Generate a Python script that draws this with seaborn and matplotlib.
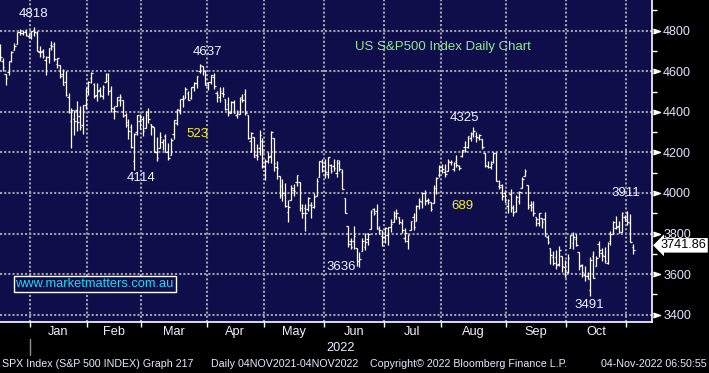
import numpy as np
import pandas as pd
import seaborn as sns
import matplotlib.pyplot as plt
from matplotlib import transforms as mtrans

# SPX daily bars, 16 Dec 2021 - 3 Nov 2022 (one line per month)
opens = [
    4719.13, 4652.50, 4587.90, 4594.96, 4650.36, 4703.96, 4733.99, 4795.49, 4788.64, 4794.23, 4775.21,
    4778.14, 4804.51, 4787.99, 4693.39, 4697.66, 4655.34, 4669.14, 4728.59, 4733.56, 4637.99, 4632.24, 4588.03, 4547.35, 4471.38, 4356.32, 4366.64, 4408.43, 4380.58, 4336.19, 4431.79,
    4519.57, 4566.39, 4535.41, 4482.79, 4505.75, 4480.02, 4547.00, 4553.24, 4506.27, 4412.61, 4429.28, 4455.75, 4456.06, 4384.57, 4332.74, 4324.93, 4155.77, 4298.38, 4354.17,
    4363.14, 4322.56, 4401.31, 4342.12, 4327.01, 4202.66, 4223.10, 4252.55, 4279.50, 4202.75, 4188.82, 4288.14, 4345.11, 4407.34, 4462.40, 4469.10, 4493.10, 4469.98, 4522.66, 4541.09, 4602.86, 4624.20, 4599.02,
    4540.32, 4547.97, 4572.45, 4494.17, 4474.65, 4494.15, 4462.64, 4437.59, 4394.30, 4449.12, 4385.63, 4390.63, 4472.26, 4489.17, 4385.83, 4255.34, 4278.14, 4186.52, 4222.58, 4253.75,
    4130.61, 4159.78, 4181.18, 4270.43, 4128.17, 4081.27, 4035.18, 3990.08, 3903.95, 3963.90, 4013.02, 4052.00, 4051.98, 3899.00, 3927.76, 3919.42, 3942.94, 3929.59, 3984.60, 4077.43, 4151.09,
    4149.78, 4095.41, 4137.57, 4134.72, 4096.47, 4147.12, 4101.65, 3974.39, 3838.15, 3763.52, 3764.05, 3728.18, 3665.90, 3715.31, 3733.89, 3774.71, 3821.75, 3920.76, 3913.00, 3825.09, 3785.99,
    3781.00, 3792.61, 3831.98, 3858.85, 3888.26, 3880.94, 3851.95, 3779.67, 3763.99, 3818.00, 3883.79, 3860.73, 3935.32, 3955.47, 3998.43, 3965.72, 3953.22, 3951.43, 4026.13, 4087.33,
    4112.38, 4104.21, 4107.96, 4154.85, 4115.87, 4155.93, 4133.11, 4181.02, 4227.40, 4225.02, 4269.37, 4290.46, 4280.40, 4273.13, 4266.31, 4195.08, 4133.09, 4126.55, 4153.26, 4198.74, 4034.58, 4041.25, 4000.67,
    3936.73, 3994.66, 3930.89, 3909.43, 3959.94, 4022.94, 4083.67, 4037.12, 3940.73, 3932.41, 3880.95, 3849.91, 3875.23, 3871.40, 3782.36, 3727.14, 3682.72, 3686.44, 3651.94, 3687.01, 3633.48,
    3609.78, 3726.46, 3753.25, 3771.97, 3706.74, 3644.76, 3595.86, 3590.83, 3520.37, 3690.41, 3638.65, 3746.26, 3703.11, 3689.05, 3657.10, 3762.01, 3799.44, 3825.97, 3834.69, 3808.26, 3881.85,
    3901.79, 3852.90, 3733.25,
]
highs = [
    4731.99, 4666.70, 4587.90, 4651.14, 4697.67, 4740.74, 4791.49, 4807.02, 4804.06, 4808.93, 4786.83,
    4796.64, 4818.62, 4797.70, 4725.01, 4707.95, 4673.02, 4714.13, 4748.83, 4744.13, 4665.13, 4632.24, 4611.55, 4602.11, 4494.52, 4417.35, 4411.01, 4453.23, 4428.74, 4432.72, 4516.89,
    4550.49, 4595.31, 4542.88, 4539.66, 4521.86, 4531.32, 4590.03, 4588.92, 4526.33, 4426.22, 4472.77, 4489.55, 4456.06, 4394.60, 4362.12, 4341.51, 4294.73, 4385.34, 4388.84,
    4378.45, 4401.48, 4416.78, 4342.12, 4327.01, 4276.94, 4299.40, 4268.28, 4291.01, 4247.57, 4271.05, 4357.86, 4412.67, 4465.40, 4481.75, 4522.00, 4501.07, 4520.58, 4546.03, 4575.65, 4637.30, 4627.77, 4603.07,
    4548.70, 4583.50, 4593.45, 4503.94, 4521.16, 4520.41, 4464.35, 4471.00, 4453.92, 4460.46, 4410.31, 4471.03, 4488.29, 4512.94, 4385.83, 4299.02, 4278.14, 4240.71, 4308.45, 4269.68,
    4169.81, 4200.10, 4307.66, 4270.43, 4157.69, 4081.27, 4068.82, 4049.09, 3964.80, 4038.88, 4046.46, 4090.72, 4051.98, 3945.96, 3943.42, 3981.88, 3955.68, 3999.33, 4075.14, 4158.49, 4168.34,
    4166.54, 4177.51, 4142.67, 4168.78, 4164.86, 4160.14, 4119.10, 3974.39, 3838.15, 3778.18, 3837.56, 3728.18, 3707.71, 3779.65, 3801.79, 3802.58, 3913.65, 3927.72, 3945.86, 3836.50, 3818.99,
    3829.82, 3832.19, 3870.91, 3910.63, 3918.50, 3880.94, 3873.41, 3829.44, 3796.41, 3863.62, 3902.44, 3939.81, 3974.13, 3999.29, 4012.44, 3975.30, 3953.22, 4039.56, 4078.95, 4140.15,
    4144.95, 4140.47, 4167.66, 4161.29, 4151.58, 4186.62, 4137.30, 4211.03, 4257.91, 4280.47, 4301.79, 4325.28, 4302.18, 4292.53, 4266.31, 4195.08, 4159.77, 4156.56, 4200.54, 4203.04, 4062.99, 4044.98, 4015.37,
    3970.23, 4018.43, 3942.55, 3987.89, 4010.50, 4076.81, 4119.28, 4037.12, 3961.94, 3959.14, 3880.95, 3900.45, 3876.01, 3907.07, 3790.68, 3727.14, 3715.67, 3717.53, 3736.74, 3687.01, 3671.44,
    3698.35, 3791.92, 3806.91, 3797.93, 3706.74, 3652.17, 3640.66, 3608.34, 3685.41, 3712.00, 3689.73, 3762.79, 3728.58, 3736.00, 3757.89, 3810.74, 3862.85, 3886.15, 3859.95, 3905.42, 3893.73,
    3911.79, 3894.44, 3750.59,
]
lows = [
    4651.89, 4600.22, 4531.10, 4583.16, 4645.53, 4703.96, 4733.99, 4780.04, 4778.08, 4775.33, 4765.75,
    4758.17, 4774.27, 4699.44, 4671.26, 4662.74, 4582.24, 4638.27, 4706.71, 4650.29, 4614.75, 4568.70, 4530.20, 4477.95, 4395.34, 4222.62, 4287.11, 4304.80, 4309.50, 4292.46, 4414.02,
    4483.53, 4544.32, 4470.39, 4451.50, 4471.47, 4465.40, 4547.00, 4484.31, 4401.41, 4364.84, 4429.28, 4429.68, 4373.81, 4327.22, 4267.11, 4221.51, 4114.65, 4286.83, 4315.12,
    4279.54, 4322.56, 4345.56, 4284.98, 4199.85, 4157.87, 4223.10, 4209.80, 4200.49, 4161.72, 4187.90, 4267.92, 4335.65, 4390.57, 4424.30, 4469.10, 4455.81, 4465.17, 4501.07, 4517.69, 4589.66, 4581.32, 4530.41,
    4507.57, 4539.21, 4514.17, 4450.04, 4450.30, 4474.60, 4408.38, 4381.34, 4392.70, 4394.30, 4370.30, 4390.63, 4448.76, 4384.47, 4267.62, 4200.82, 4175.04, 4162.90, 4188.63, 4124.28,
    4062.51, 4147.08, 4148.91, 4106.01, 4067.91, 3975.48, 3958.17, 3928.82, 3858.87, 3963.90, 3983.99, 4033.93, 3911.91, 3876.58, 3810.32, 3909.04, 3875.13, 3925.03, 3984.60, 4077.43, 4104.88,
    4073.85, 4074.37, 4098.67, 4109.18, 4080.19, 4107.20, 4017.17, 3900.16, 3734.30, 3724.20, 3722.30, 3639.77, 3636.87, 3715.31, 3717.69, 3743.52, 3821.75, 3889.66, 3820.14, 3799.02, 3738.67,
    3752.10, 3742.06, 3809.37, 3858.85, 3869.34, 3847.22, 3802.36, 3759.07, 3721.56, 3817.18, 3818.63, 3860.73, 3922.03, 3927.64, 3938.85, 3943.46, 3910.74, 3951.43, 3992.97, 4079.22,
    4096.02, 4079.81, 4107.96, 4135.42, 4107.31, 4128.97, 4112.09, 4177.26, 4201.41, 4219.78, 4256.90, 4277.77, 4253.08, 4261.98, 4218.70, 4129.86, 4124.03, 4119.97, 4147.59, 4057.66, 4017.42, 3965.21, 3954.53,
    3903.65, 3906.21, 3886.75, 3906.03, 3944.81, 4022.94, 4083.67, 3921.31, 3912.85, 3888.28, 3837.08, 3838.50, 3827.54, 3789.49, 3749.45, 3647.47, 3644.76, 3623.29, 3640.61, 3610.40, 3584.13,
    3604.93, 3726.46, 3722.66, 3739.22, 3620.73, 3588.10, 3568.45, 3573.86, 3491.58, 3579.68, 3638.65, 3686.53, 3666.51, 3656.44, 3647.42, 3741.65, 3799.44, 3824.07, 3803.79, 3808.26, 3863.18,
    3843.80, 3758.68, 3698.15,
]
closes = [
    4668.67, 4620.64, 4568.02, 4649.23, 4696.56, 4725.79, 4791.19, 4786.35, 4793.06, 4778.73, 4766.18,
    4796.56, 4793.54, 4700.58, 4696.05, 4677.03, 4670.29, 4713.07, 4726.35, 4659.03, 4662.85, 4577.11, 4532.76, 4482.73, 4397.94, 4410.13, 4356.45, 4349.93, 4326.51, 4431.85, 4515.55,
    4546.54, 4589.38, 4477.44, 4500.53, 4483.87, 4521.54, 4587.18, 4504.08, 4418.64, 4401.67, 4471.07, 4475.01, 4380.26, 4348.87, 4304.76, 4225.50, 4288.70, 4384.65, 4373.94,
    4306.26, 4386.54, 4363.49, 4328.87, 4201.09, 4170.70, 4277.88, 4259.52, 4204.31, 4173.11, 4262.45, 4357.86, 4411.67, 4463.12, 4461.18, 4511.61, 4456.24, 4520.16, 4543.06, 4575.52, 4631.60, 4602.45, 4530.41,
    4545.86, 4582.64, 4525.12, 4481.15, 4500.21, 4488.28, 4412.53, 4397.45, 4446.59, 4392.59, 4391.69, 4462.21, 4459.45, 4393.66, 4271.78, 4296.12, 4175.20, 4183.96, 4287.50, 4131.93,
    4155.38, 4175.48, 4300.17, 4146.87, 4123.34, 3991.24, 4001.05, 3935.18, 3930.08, 4023.89, 4008.01, 4088.85, 3923.68, 3900.79, 3901.36, 3973.75, 3941.48, 3978.73, 4057.84, 4158.24, 4132.15,
    4101.23, 4176.82, 4108.54, 4121.43, 4160.68, 4115.77, 4017.82, 3900.86, 3749.63, 3735.48, 3789.99, 3666.77, 3674.84, 3764.79, 3759.89, 3795.73, 3911.74, 3900.11, 3821.55, 3818.83, 3785.38,
    3825.33, 3831.39, 3845.08, 3902.62, 3899.38, 3854.43, 3818.80, 3801.78, 3790.38, 3863.16, 3830.85, 3936.69, 3959.90, 3998.95, 3961.63, 3966.84, 3921.05, 4023.61, 4072.43, 4130.29,
    4118.63, 4091.19, 4155.17, 4151.94, 4145.19, 4140.06, 4122.47, 4210.24, 4207.27, 4280.15, 4297.14, 4305.20, 4274.04, 4283.74, 4228.48, 4137.99, 4128.73, 4140.77, 4199.12, 4057.66, 4030.61, 3986.16, 3955.00,
    3966.85, 3924.26, 3908.19, 3979.87, 4006.18, 4067.36, 4110.41, 3932.69, 3946.01, 3901.35, 3873.33, 3899.89, 3855.93, 3789.93, 3757.99, 3693.23, 3655.04, 3647.29, 3719.04, 3640.47, 3585.62,
    3678.43, 3790.93, 3783.28, 3744.52, 3639.66, 3612.39, 3588.84, 3577.03, 3669.91, 3583.07, 3677.95, 3719.98, 3695.16, 3665.78, 3752.75, 3797.34, 3859.11, 3830.60, 3807.30, 3901.06, 3871.98,
    3856.10, 3759.69, 3719.89,
]

# NYSE holidays inside the window
holidays = ['2021-12-24', '2022-01-17', '2022-02-21', '2022-04-15',
            '2022-05-30', '2022-06-20', '2022-07-04', '2022-09-05']
y_ticks = [3400, 3600, 3800, 4000, 4200, 4400, 4600, 4800]
last_price = 3741.86

# peak / trough labels: (text, day index, price level, colour)
labels = [('4818', 11.6, 4882, '#eef0ff'), ('4637', 72.6, 4695, '#eef0ff'),
          ('4114', 49.4, 4075, '#eef0ff'), ('523', 69.2, 4291, '#f2f22a'),
          ('3636', 119.5, 3636, '#eef0ff'), ('4325', 162.7, 4370, '#eef0ff'),
          ('689', 162.1, 3937, '#f2f22a'), ('3911', 219.5, 4001, '#eef0ff'),
          ('3491', 206.5, 3449, '#eef0ff')]

dates = pd.bdate_range('2021-12-16', '2022-11-03', freq='C', holidays=holidays)
assert len(dates) == len(opens) == len(highs) == len(lows) == len(closes)
df = pd.DataFrame({'date': dates, 'open': opens, 'high': highs,
                   'low': lows, 'close': closes})
df['i'] = np.arange(len(df))

sns.set_theme(style='dark', rc={'axes.facecolor': '#100e4a',
                                'figure.facecolor': 'black'})
plt.rcParams['font.family'] = ['Liberation Sans', 'DejaVu Sans']

W, H = 709, 373
fig = plt.figure(figsize=(W / 100, H / 100), dpi=100)
ax = fig.add_axes([0, 51 / H, 652 / W, 322 / H])
ax.set_facecolor('#100e4a')

# OHLC bars
ax.vlines(df['i'], df['low'], df['high'], color='white', lw=0.9, zorder=3)
ax.hlines(df['open'], df['i'] - 0.55, df['i'], color='white', lw=0.9, zorder=3)
ax.hlines(df['close'], df['i'], df['i'] + 0.55, color='white', lw=0.9, zorder=3)

ax.set_xlim(-0.02, 228.6)
ax.set_ylim(3364, 4951)

# month boundaries / labels
new_month = df.index[df['date'].dt.month != df['date'].dt.month.shift()][1:]
bounds = [i - 0.5 for i in new_month]
centres = [(a + b) / 2 for a, b in zip(bounds[:-1], bounds[1:])]
month_names = [df['date'][i].strftime('%b') for i in new_month[:-1]]

ax.set_xticks(bounds)
ax.set_xticklabels([])
ax.set_xticks(centres, minor=True)
ax.set_xticklabels(month_names, minor=True)
ax.tick_params(axis='x', which='major', direction='out', length=3.5, width=1,
               color='white', bottom=True)
ax.tick_params(axis='x', which='minor', length=0, pad=3, labelsize=9.2,
               labelcolor='#eef0ff')

ax.yaxis.tick_right()
ax.set_yticks(y_ticks)
ax.set_yticks([v + 100 for v in y_ticks], minor=True)
ax.tick_params(axis='y', which='major', length=0, pad=8, labelsize=9,
               labelcolor='#dfe6ff', right=True)
ax.tick_params(axis='y', which='minor', direction='out', length=3.5, width=1,
               color='white', right=True)
ax.set_xlabel('')
ax.set_ylabel('')

ax.grid(True, which='major', color='#a0a0a8', lw=1.5, ls=(0, (1, 1)))
ax.grid(False, which='minor')
ax.set_axisbelow(True)

for side in ['top', 'left']:
    ax.spines[side].set_visible(False)
for side in ['bottom', 'right']:
    ax.spines[side].set_visible(True)
    ax.spines[side].set_color('white')
    ax.spines[side].set_linewidth(1.2)

# triangles at the major y ticks
tri = mtrans.offset_copy(ax.get_yaxis_transform(), fig=fig, x=0.5, y=0, units='dots')
ax.plot([1.0] * len(y_ticks), y_ticks, ls='none', marker=[(0, -1), (3, 0), (0, 1)],
        ms=10, color='white', transform=tri, clip_on=False)

# last price box
ax.annotate(f'{last_price:.2f}', xy=(1.0, last_price), xycoords=ax.get_yaxis_transform(),
            xytext=(6.3, 0), textcoords='offset points', ha='left', va='center',
            fontsize=9.2, color='black', annotation_clip=False,
            bbox=dict(boxstyle='larrow,pad=0.1', fc='white', ec='none'))

for txt, xi, yv, col in labels:
    ax.text(xi, yv, txt, ha='center', va='center', fontsize=9.5, color=col)

ax.text(124.5, 4720, 'US S&P500 Index Daily Chart', ha='left', va='center',
        fontsize=9.5, color='#8fea8f')
ax.text(5.4, 3550, 'www.marketmatters.com.au', ha='left', va='center',
        fontsize=9.3, color='#22d8f2',
        bbox=dict(boxstyle='square,pad=0.15', fc='#100e4a', ec='white', lw=1))

# year marker and footer
fig.text(341 / W, 1 - 348 / H, '2022', ha='center', va='center', fontsize=9.2,
         color='#eef0ff')
fig.add_artist(plt.Line2D([30 / W, 30 / W], [1 - 339 / H, 1 - 355 / H],
                          color='#909090', lw=1))
foot = [(2, 'SPX Index (S&P 500 INDEX) Graph 217', 'left'),
        (211, 'Daily 04NOV2021-04NOV2022', 'left'),
        (370, 'Copyright\u00a9 2022 Bloomberg Finance L.P.', 'left'),
        (707, '04-Nov-2022 06:50:55', 'right')]
for xp, txt, al in foot:
    fig.text(xp / W, 1 - 364 / H, txt, ha=al, va='center', fontsize=7.7,
             color='#e6eaff')

fig.savefig('out.png', dpi=100, facecolor='black')
